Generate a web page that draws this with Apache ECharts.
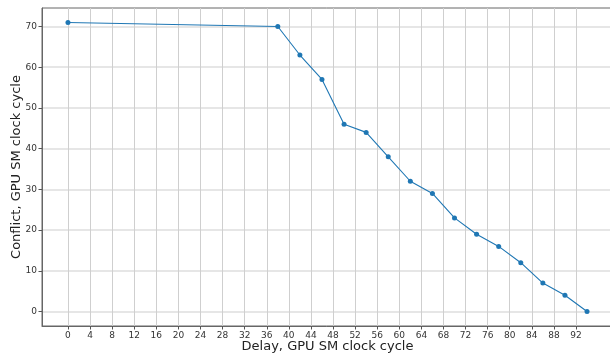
<!DOCTYPE html>
<html><head><meta charset="utf-8">
<script src="https://cdn.jsdelivr.net/npm/echarts@6/dist/echarts.min.js"></script>
<style>html,body{margin:0;padding:0;background:#fff}#c{width:610px;height:355px}</style>
</head><body><div id="c"></div>
<script>
const delays = [0, 38, 42, 46, 50, 54, 58, 62, 66, 70, 74, 78, 82, 86, 90, 94];
const conflicts = [71, 70, 63, 57, 46, 44, 38, 32, 29, 23, 19, 16, 12, 7, 4, 0];
const xTicks = [0,4,8,12,16,20,24,28,32,36,40,44,48,52,56,60,64,68,72,76,80,84,88,92];
const yTicks = [0,10,20,30,40,50,60,70];
const xName = "Delay, GPU SM clock cycle";
const yName = "Conflict, GPU SM clock cycle";

const chart = echarts.init(document.getElementById('c'), null, {renderer:'canvas'});
const font = "DejaVu Sans";
chart.setOption({
  animation: false,
  grid: {left: 42, top: 8, right: -3, bottom: 29, show: true, borderColor: '#666', borderWidth: 1,
         backgroundColor: 'transparent', containLabel: false, outerBoundsMode: 'none'},
  xAxis: {
    type: 'value', min: -4.7, max: 98.7,
    name: xName, nameLocation: 'middle', nameGap: 14, nameMoveOverlap: false,
    nameTextStyle: {fontFamily: font, fontSize: 13, color: '#222'},
    axisLine: {show: true, onZero: false, lineStyle: {color: '#666'}},
    axisTick: {show: true, length: 3.5, customValues: xTicks, lineStyle: {color: '#555'}},
    axisLabel: {customValues: xTicks, fontFamily: font, fontSize: 9, color: '#333', margin: 5},
    splitLine: {show: true, lineStyle: {color: '#cfcfcf', width: 1}}
  },
  yAxis: {
    type: 'value', min: -3.55, max: 74.55,
    name: yName, nameLocation: 'middle', nameGap: 19, nameMoveOverlap: false,
    nameTextStyle: {fontFamily: font, fontSize: 13, color: '#222'},
    axisLine: {show: true, onZero: false, lineStyle: {color: '#666'}},
    axisTick: {show: true, length: 3.5, customValues: yTicks, lineStyle: {color: '#555'}},
    axisLabel: {customValues: yTicks, fontFamily: font, fontSize: 9, color: '#333', margin: 5},
    splitLine: {show: true, lineStyle: {color: '#dedede', width: 1.5}}
  },
  series: [{
    type: 'line',
    data: delays.map((d, i) => [d, conflicts[i]]),
    symbol: 'circle', symbolSize: 5,
    lineStyle: {color: '#1f77b4', width: 1.1},
    itemStyle: {color: '#1f77b4'}
  }]
});
</script></body></html>
